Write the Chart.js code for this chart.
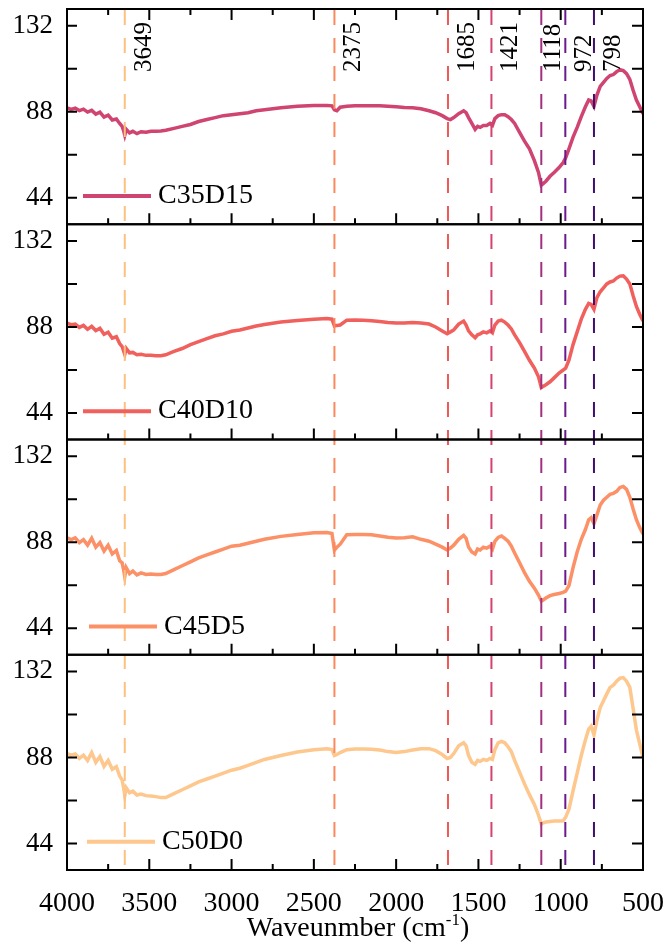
<!DOCTYPE html>
<html>
<head>
<meta charset="utf-8">
<title>FTIR spectra</title>
<script src="https://cdn.jsdelivr.net/npm/chart.js@4.4.1/dist/chart.umd.min.js"></script>
<style>
  html, body { margin: 0; padding: 0; background: #fff; }
  #wrap { width: 667px; height: 943px; }
</style>
</head>
<body>
<div id="wrap"><canvas id="ftir" width="667" height="943"></canvas></div>
<script>
// wavenumber grid (cm-1), shared by all four spectra
const waveNumbers = [
    4000, 3975, 3950, 3925, 3900, 3875, 3850, 3825, 3800, 3775,
    3750, 3725, 3700, 3680, 3665, 3655, 3649, 3640, 3620, 3600,
    3575, 3550, 3520, 3490, 3460, 3430, 3400, 3350, 3300, 3250,
    3200, 3150, 3100, 3050, 3000, 2950, 2900, 2850, 2800, 2700,
    2600, 2500, 2420, 2390, 2375, 2360, 2340, 2300, 2250, 2200,
    2150, 2100, 2050, 2000, 1950, 1900, 1850, 1800, 1760, 1720,
    1690, 1670, 1650, 1620, 1590, 1575, 1560, 1540, 1520, 1505,
    1490, 1470, 1450, 1430, 1415, 1400, 1380, 1360, 1340, 1320,
    1300, 1280, 1250, 1220, 1190, 1160, 1135, 1118, 1110, 1090,
    1065, 1040, 1010, 985, 970, 950, 925, 900, 875, 850,
    830, 815, 798, 780, 760, 740, 720, 700, 680, 660,
    640, 620, 600, 580, 560, 540, 520, 500
];

const c35d15 = [
    90, 89.2, 89.8, 88.6, 89.3, 87.8, 88.7, 86.8, 87.8, 85.3,
    86.3, 83.8, 84.3, 82, 80.5, 78, 76, 79, 77.2, 78,
    76.8, 77.8, 77.5, 78, 78, 78.2, 78.5, 79.5, 80.5, 81.5,
    83, 84, 85, 86, 86.5, 87, 87.5, 88.5, 89, 90,
    90.8, 91.2, 91.2, 91, 89, 88.5, 90.3, 90.8, 91, 91,
    91, 91, 90.8, 90.5, 90.2, 90, 89.5, 88.5, 87.5, 86,
    84.5, 84, 85, 87, 88.5, 87.5, 85, 82, 79, 80.5,
    80, 81, 81, 82, 81, 84.5, 86, 86.5, 86.5, 85.5,
    84, 82, 77.5, 73, 69, 63, 57, 50.5, 51, 52.5,
    55, 57, 59.5, 62, 64.5, 69, 75, 80, 85.5, 90.5,
    94, 93.5, 90.7, 96.5, 101, 103, 105, 106.5, 107, 108.5,
    109.5, 109, 107.5, 104.5, 99, 94, 90.5, 87
];

const c40d10 = [
    90, 89.2, 89.5, 87.8, 88.8, 86.8, 88.3, 86.2, 87.3, 84.3,
    85.3, 82.3, 83, 79.5, 78, 75.5, 74, 77, 74.8, 75,
    73.8, 74, 73.5, 73.5, 73.3, 73.3, 73.8, 75.5, 77, 79,
    80.5, 82, 83.5, 84.5, 85.8, 86.5, 87.5, 88.5, 89.3, 90.5,
    91.3, 92, 92.3, 92, 88.5, 88.8, 89, 91.5, 91.6, 91.5,
    91.2, 90.8, 90.3, 90, 90, 90.3, 90, 89.5, 88, 86,
    84.5, 85.5, 86.5, 89.5, 91, 89, 86, 84, 82.5, 84,
    84.5, 85.5, 85, 86, 85, 89, 91, 91.5, 90.5, 89,
    87, 84, 80, 75.5, 71, 67, 62.5, 57, 57.5, 58.5,
    60, 62, 64.5, 66, 67, 71, 79, 85.5, 92, 97,
    100, 99.5, 97, 103, 106, 108, 110, 111, 111.5, 113,
    114, 114.2, 112.5, 110, 104, 98.5, 94.5, 91
];

const c45d5 = [
    90.2, 89.3, 90.2, 87.8, 89.3, 86.5, 90, 85.5, 87.8, 83.5,
    86.5, 82, 83.8, 78.5, 77.5, 73.5, 70.5, 75, 72, 73.3,
    71.3, 72.3, 71.5, 71.8, 71.5, 71.5, 72, 74, 76, 78,
    80, 81.5, 83, 84.5, 86, 86.5, 87.5, 88.5, 89.5, 91,
    92, 92.8, 93, 92.5, 84, 85.5, 87, 91.8, 92, 92,
    91.8, 91.2, 90.5, 90.2, 90.3, 90.8, 89.5, 88.5, 87, 85.5,
    84, 85, 86.5, 89.5, 91.5, 90, 85.5, 83, 82, 84.5,
    84, 85.5, 85, 86, 84.5, 88.5, 90.5, 91.2, 90, 88.5,
    86, 82.5, 77.5, 72.5, 68, 64.5, 61, 58, 58.3, 59.5,
    60.7, 61.3, 61.8, 62.4, 63, 65.8, 75, 83, 89.5, 94.5,
    99.5, 100.5, 97.5, 102, 107, 109.5, 111, 112.5, 113, 114,
    116, 116.5, 115, 111, 105, 99.5, 95.5, 92.3
];

const c50d0 = [
    90, 89.2, 89.8, 87.5, 89.2, 86.5, 90.5, 85.5, 88.5, 83.5,
    86.5, 82, 83.3, 78.5, 76.5, 72, 68.5, 72.5, 70, 70.8,
    68.8, 69.3, 68.5, 68.3, 68, 67.5, 67.5, 69.5, 71.5, 73.5,
    75.5, 77, 78.5, 80, 81.5, 82.5, 84, 85.5, 87, 89,
    90.8, 92, 92.5, 92, 89, 89.5, 90.5, 92, 92.3, 92.3,
    92.2, 91.8, 91, 90.5, 91, 91.8, 92.5, 92.5, 91.5, 89.5,
    87.5, 88, 90, 94, 95.5, 94, 89, 85.5, 84.5, 86.5,
    86, 87, 86.5, 87.5, 87, 92, 95.5, 96.2, 95.5, 93.5,
    91, 86.5, 80.5, 74.5, 69, 64, 58.5, 54, 54.5, 55,
    55.3, 55.5, 55.6, 55.7, 57.5, 61.5, 71, 80, 89, 97,
    102.5, 104, 99.6, 107, 113.5, 117, 120.5, 123.8, 125, 127,
    128.5, 128.8, 127, 123.8, 113, 102, 95, 88
];

const seriesNames = ['C35D15', 'C40D10', 'C45D5', 'C50D0'];
const seriesColors = ['#cf4470', '#f0605d', '#fc9066', '#fdc78d'];

const peakPositions = [3649, 2375, 1685, 1421, 1118, 972, 798];
const peakColors = ['#fdc17f', '#fa8a5e', '#ef5a57', '#d4436d', '#a2307f', '#6c1a8b', '#3f0f6c'];

const yTicks = [44, 66, 88, 110, 132];
const xMin = 500, xMax = 4000, xMajorStep = 500, xMinorStep = 250;

const FONT = '"Liberation Serif"';
const seriesValues = [c35d15, c40d10, c45d5, c50d0];
const panelIds = seriesNames.map(n => 'y' + n);
const legendIndent = [16, 16, 22, 20];

const scales = {
    x: {
        type: 'linear',
        position: 'bottom',
        reverse: true,
        min: xMin,
        max: xMax,
        grid: { display: false, drawTicks: false },
        border: { display: false },
        ticks: {
            stepSize: xMajorStep,
            maxRotation: 0,
            padding: 17,
            color: '#000',
            font: { family: FONT, size: 28 },
            callback: (v) => String(v)
        },
        afterFit: (s) => {
            s.height = 73;
            s.paddingLeft = 0;
            s.paddingRight = 0;
        }
    }
};

// bottom panel is defined first, so the top panel ends up on top of the stack
[...panelIds].reverse().forEach((id) => {
    scales[id] = {
        type: 'linear',
        position: 'left',
        stack: 'panels',
        stackWeight: 1,
        min: 30.5,
        max: 140.5,
        grid: { display: false, drawTicks: false },
        border: { display: false },
        ticks: {
            padding: 14,
            color: '#000',
            font: { family: FONT, size: 27 },
            callback: (v) => String(v)
        },
        afterBuildTicks: (s) => {
            s.ticks = yTicks.map(v => ({ value: v }));
        },
        afterFit: (s) => {
            s.width = 67;
            s.paddingTop = 0;
            s.paddingBottom = 0;
        }
    };
});

const datasets = seriesNames.map((name, i) => ({
    label: name,
    yAxisID: panelIds[i],
    data: waveNumbers.map((w, j) => ({ x: w, y: seriesValues[i][j] })),
    borderColor: seriesColors[i],
    borderWidth: 3.5,
    pointRadius: 0,
    fill: false,
    tension: 0
}));

const spectraFrame = {
    id: 'spectraFrame',
    afterDatasetsDraw(chart) {
        const { ctx, chartArea: area, scales: sc } = chart;
        const xs = sc.x;
        ctx.save();

        // dashed marker lines through all panels
        ctx.lineWidth = 2;
        ctx.setLineDash([15, 13]);
        peakPositions.forEach((w, i) => {
            const px = xs.getPixelForValue(w);
            ctx.strokeStyle = peakColors[i];
            ctx.beginPath();
            ctx.moveTo(px, area.top + 1);
            ctx.lineTo(px, area.bottom - 2);
            ctx.stroke();
        });
        ctx.setLineDash([]);

        // rotated peak labels
        ctx.fillStyle = '#000';
        ctx.font = `25px ${FONT}`;
        ctx.textAlign = 'left';
        ctx.textBaseline = 'alphabetic';
        peakPositions.forEach((w) => {
            const px = xs.getPixelForValue(w);
            ctx.save();
            ctx.translate(px + (w === 1118 ? 19 : 26), area.top + 63);
            ctx.rotate(-Math.PI / 2);
            ctx.fillText(String(w), 0, 0);
            ctx.restore();
        });

        // panel frames, inward ticks and legends
        ctx.strokeStyle = '#000';
        ctx.lineWidth = 2;
        panelIds.forEach((id, i) => {
            const ys = sc[id];
            const top = ys.top, bottom = ys.bottom;
            ctx.strokeRect(area.left, top, area.right - area.left, bottom - top);

            ctx.beginPath();
            for (let w = xMin; w <= xMax; w += xMinorStep) {
                const px = xs.getPixelForValue(w);
                const len = (w % xMajorStep === 0) ? 11 : 6;
                ctx.moveTo(px, bottom);
                ctx.lineTo(px, bottom - len);
                if (i === 0) {
                    ctx.moveTo(px, top);
                    ctx.lineTo(px, top + len);
                }
            }
            yTicks.forEach((v) => {
                const py = ys.getPixelForValue(v);
                ctx.moveTo(area.left, py);
                ctx.lineTo(area.left + 10, py);
                ctx.moveTo(area.right, py);
                ctx.lineTo(area.right - 11, py);
            });
            ctx.stroke();

            // legend entry
            const ly = ys.getPixelForValue(45);
            const lx = area.left + legendIndent[i];
            ctx.save();
            ctx.strokeStyle = seriesColors[i];
            ctx.lineWidth = 4;
            ctx.beginPath();
            ctx.moveTo(lx, ly);
            ctx.lineTo(lx + 68, ly);
            ctx.stroke();
            ctx.restore();
            ctx.font = `28px ${FONT}`;
            ctx.textBaseline = 'middle';
            ctx.fillText(seriesNames[i], lx + 75, ly);
        });

        // x axis title with superscript
        const main = 'Waveunmber (cm';
        const sup = '-1';
        const tail = ')';
        ctx.textBaseline = 'alphabetic';
        ctx.font = `28px ${FONT}`;
        const w1 = ctx.measureText(main).width;
        const w3 = ctx.measureText(tail).width;
        ctx.font = `17px ${FONT}`;
        const w2 = ctx.measureText(sup).width;
        const cx = (area.left + area.right) / 2 + 3;
        let tx = cx - (w1 + w2 + w3) / 2;
        const base = 936;
        ctx.font = `28px ${FONT}`;
        ctx.fillText(main, tx, base);
        tx += w1;
        ctx.font = `17px ${FONT}`;
        ctx.fillText(sup, tx, base - 11);
        tx += w2;
        ctx.font = `28px ${FONT}`;
        ctx.fillText(tail, tx, base);

        ctx.restore();
    }
};

new Chart(document.getElementById('ftir'), {
    type: 'line',
    data: { datasets },
    options: {
        responsive: false,
        animation: false,
        layout: { padding: { top: 9, right: 24, bottom: 0, left: 0 } },
        scales,
        plugins: {
            legend: { display: false },
            tooltip: { enabled: false }
        }
    },
    plugins: [spectraFrame]
});
</script>
</body>
</html>
